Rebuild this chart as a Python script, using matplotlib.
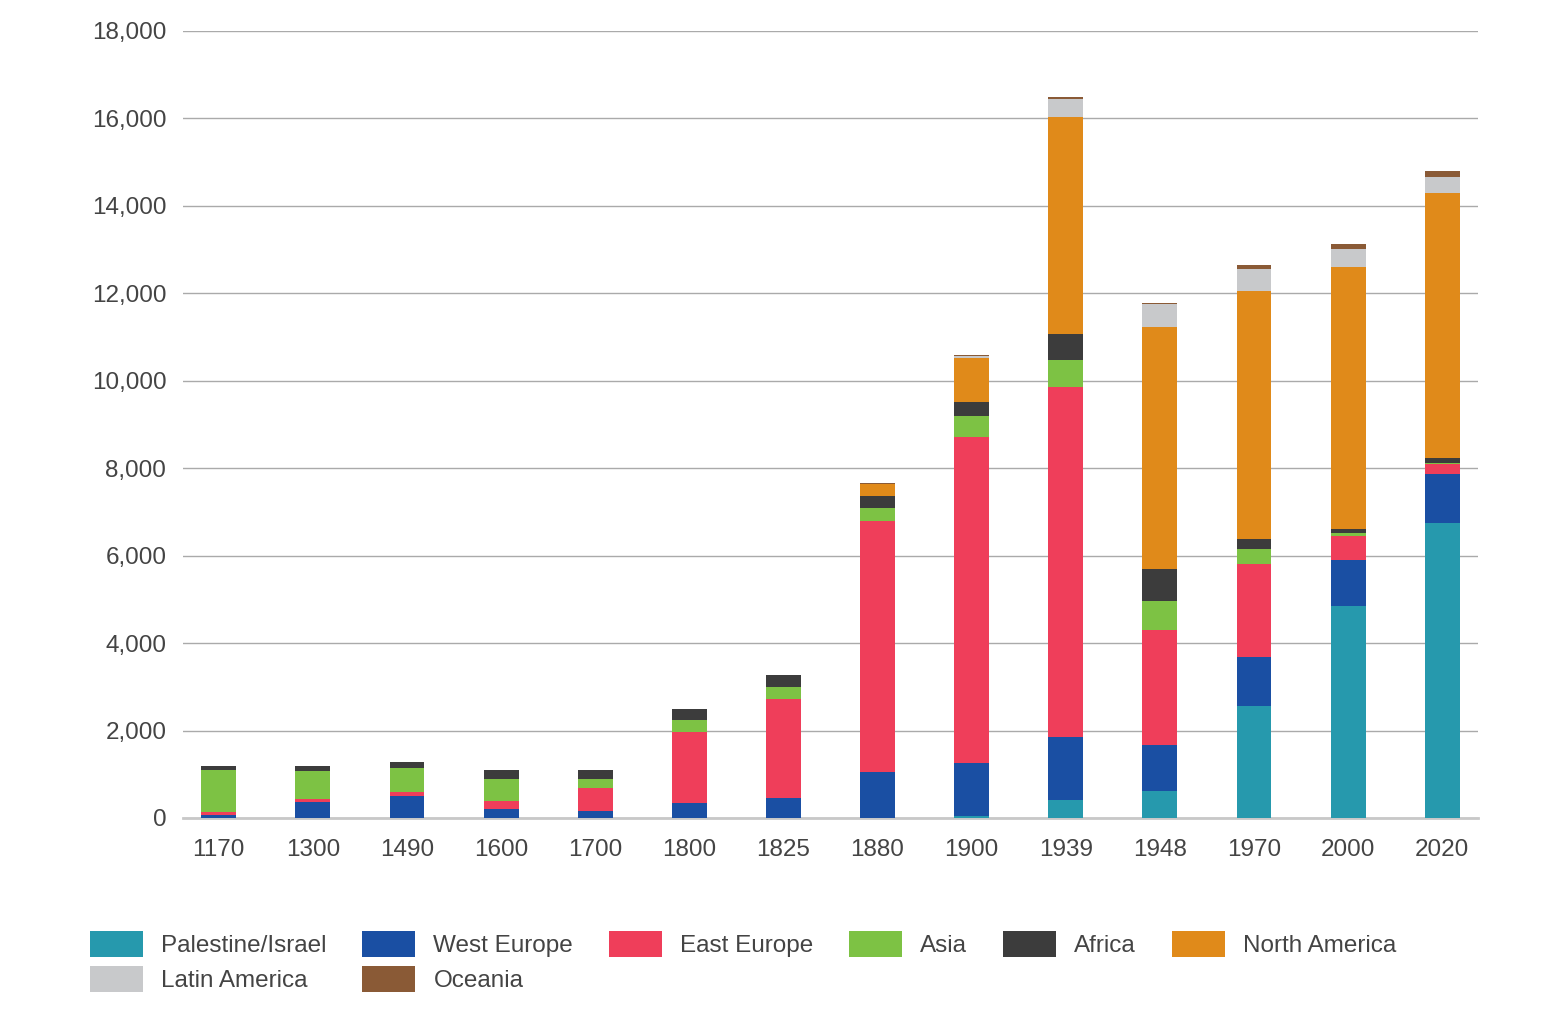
import numpy as np
import matplotlib
matplotlib.use("Agg")
import matplotlib.pyplot as plt
from matplotlib.patches import Patch

plt.rcParams['font.family'] = ['Liberation Sans', 'DejaVu Sans']

years = ["1170", "1300", "1490", "1600", "1700", "1800", "1825",
         "1880", "1900", "1939", "1948", "1970", "2000", "2020"]

palestine_israel = [0, 0, 0, 0, 0, 0, 0, 0, 40, 420, 620, 2560, 4850, 6750]
west_europe = [70, 373, 510, 205, 160, 345, 465, 1060, 1225, 1430, 1050, 1120, 1060, 1125]
east_europe = [75, 60, 85, 185, 535, 1630, 2255, 5730, 7450, 8000, 2635, 2135, 550, 230]
asia = [955, 640, 550, 500, 200, 265, 275, 300, 480, 620, 660, 335, 60, 20]
africa = [100, 115, 140, 200, 200, 245, 265, 280, 320, 595, 730, 230, 100, 100]
north_america = [0, 0, 0, 0, 0, 0, 0, 275, 1015, 4960, 5535, 5670, 5985, 6080]
latin_america = [0, 0, 0, 0, 0, 0, 0, 0, 30, 410, 520, 505, 410, 345]
oceania = [0, 0, 0, 0, 0, 0, 0, 20, 30, 50, 30, 100, 115, 140]

series = [
    ("Palestine/Israel", palestine_israel, "#2699ad"),
    ("West Europe", west_europe, "#1a4fa3"),
    ("East Europe", east_europe, "#ef3e5a"),
    ("Asia", asia, "#7dc244"),
    ("Africa", africa, "#3c3c3c"),
    ("North America", north_america, "#e08a1a"),
    ("Latin America", latin_america, "#c8c9cb"),
    ("Oceania", oceania, "#8a5a36"),
]

fig = plt.figure(figsize=(15.47, 10.18), dpi=100)
ax = fig.add_axes([183/1547, 200/1018, 1295/1547, 787/1018])

x = np.arange(len(years))
bottom = np.zeros(len(years))
for name, vals, col in series:
    vals = np.array(vals, dtype=float)
    ax.bar(x, vals, width=0.37, bottom=bottom, color=col, linewidth=0, zorder=3)
    bottom += vals

ax.set_xlim(-0.38, len(years) - 1 + 0.38)
ax.set_ylim(0, 18000)
ax.set_yticks(np.arange(0, 18001, 2000))
ax.set_yticklabels([f"{v:,}" for v in range(0, 18001, 2000)])
ax.set_xticks(x)
ax.set_xticklabels(years)
ax.yaxis.grid(True, color="#aaaaaa", linewidth=1, zorder=0)
ax.set_axisbelow(True)
for s in ["top", "right", "left"]:
    ax.spines[s].set_visible(False)
ax.spines["bottom"].set_color("#c8c8c8")
ax.spines["bottom"].set_linewidth(2)
ax.tick_params(axis="both", length=0, labelsize=17.5, labelcolor="#444444")
ax.tick_params(axis="x", pad=15)
ax.tick_params(axis="y", pad=12)

# legend filled row-major across 6 columns
order = [0, 6, 1, 7, 2, 3, 4, 5]
handles = [Patch(facecolor=series[i][2], linewidth=0) for i in order]
labels = [series[i][0] for i in order]
fig.legend(handles, labels, ncol=6, loc="upper left",
           bbox_to_anchor=(90/1547, 1 - 931/1018), frameon=False,
           fontsize=17.5, labelcolor="#444444", borderpad=0, borderaxespad=0,
           handlelength=2.18, handleheight=1.25, handletextpad=0.74,
           columnspacing=1.48, labelspacing=0.38)

fig.savefig("out.png", dpi=100)
